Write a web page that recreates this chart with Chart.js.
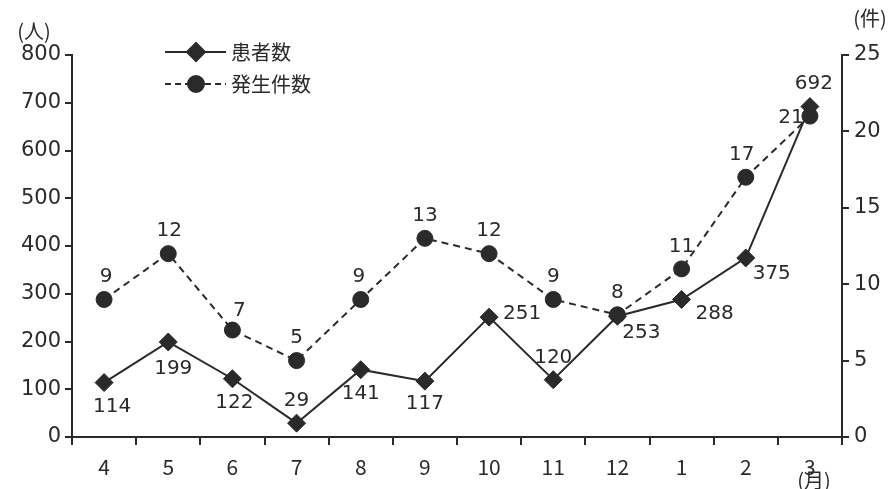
<!DOCTYPE html>
<html>
<head>
<meta charset="utf-8">
<script src="https://cdn.jsdelivr.net/npm/chart.js@4"></script>
<style>
  html, body { margin: 0; padding: 0; background: #fff; }
  #wrap { width: 889px; height: 489px; position: relative; }
</style>
</head>
<body>
<div id="wrap"><canvas id="chart" width="889" height="489"></canvas></div>
<script>
// Data
const months = ['4', '5', '6', '7', '8', '9', '10', '11', '12', '1', '2', '3'];
const patients = [114, 199, 122, 29, 141, 117, 251, 120, 253, 288, 375, 692];   // 患者数 (人)
const incidents = [9, 12, 7, 5, 9, 13, 12, 9, 8, 11, 17, 21];                   // 発生件数 (件)
const leftTicks = [0, 100, 200, 300, 400, 500, 600, 700, 800];
const rightTicks = [0, 5, 10, 15, 20, 25];

const FONT = '"Noto Sans CJK JP", "Noto Sans", sans-serif';
const NUMFONT = '"DejaVu Sans", "Noto Sans", sans-serif';
const INK = '#2a2a2a';

// label offsets (dx, dy) relative to each point
const patientLabelPos = [
  [8, 24], [5, 27], [2, 24], [0, -22], [0, 24], [0, 23],
  [33, -3], [0, -22], [24, 17], [33, 14], [26, 16], [4, -23]
];
const incidentLabelPos = [
  [2, -23], [1, -23], [7, -19], [0, -23], [-2, -23], [0, -23],
  [0, -23], [0, -23], [0, -22], [0, -22], [-4, -22], [-19, 2]
];

// draws value labels, legend and axis units
const annotate = {
  id: 'annotate',
  afterDatasetsDraw(chart) {
    const ctx = chart.ctx;
    ctx.save();
    ctx.fillStyle = INK;
    ctx.textAlign = 'center';
    ctx.textBaseline = 'middle';
    ctx.font = '20px ' + NUMFONT;
    const pos = [patientLabelPos, incidentLabelPos];
    chart.data.datasets.forEach((ds, di) => {
      chart.getDatasetMeta(di).data.forEach((pt, i) => {
        const o = pos[di][i];
        ctx.fillText(String(ds.data[i]), pt.x + o[0], pt.y + o[1]);
      });
    });

    // units
    const yb = chart.scales.y1;
    const xa = chart.scales.x;
    ctx.font = '20px ' + FONT;
    ctx.fillText('(人)', 34, 31);
    ctx.fillText('(件)', yb.left + 28, 18);
    ctx.fillText('(月)', xa.getPixelForValue(11) + 4, 480);

    // legend
    const items = [
      { label: '患者数', dash: [], style: 'rectRot', r: 9, y: 52 },
      { label: '発生件数', dash: [6, 4], style: 'circle', r: 8, y: 84 }
    ];
    items.forEach(it => {
      ctx.strokeStyle = INK;
      ctx.lineWidth = 2;
      ctx.setLineDash(it.dash);
      ctx.beginPath();
      ctx.moveTo(165, it.y);
      ctx.lineTo(226, it.y);
      ctx.stroke();
      ctx.setLineDash([]);
      Chart.helpers.drawPoint(ctx, { pointStyle: it.style, radius: it.r, borderWidth: 1 }, 196, it.y);
      ctx.fillStyle = INK;
      ctx.fill();
      ctx.textAlign = 'left';
      ctx.font = '20px ' + FONT;
      ctx.fillText(it.label, 231, it.y);
    });
    ctx.restore();
  }
};

const tickFont = { family: NUMFONT, size: 21 };

new Chart(document.getElementById('chart'), {
  type: 'line',
  data: {
    labels: months,
    datasets: [
      {
        label: '患者数',
        data: patients,
        yAxisID: 'y',
        borderColor: INK,
        backgroundColor: INK,
        borderWidth: 2,
        pointStyle: 'rectRot',
        pointRadius: 9,
        pointBorderWidth: 1,
        tension: 0
      },
      {
        label: '発生件数',
        data: incidents,
        yAxisID: 'y1',
        borderColor: INK,
        backgroundColor: INK,
        borderWidth: 2,
        borderDash: [7, 5],
        pointStyle: 'circle',
        pointRadius: 8,
        pointBorderWidth: 1,
        tension: 0
      }
    ]
  },
  options: {
    responsive: false,
    animation: false,
    layout: { padding: { top: 55, left: 0, right: 0, bottom: 0 } },
    plugins: {
      legend: { display: false },
      tooltip: { enabled: false }
    },
    scales: {
      x: {
        offset: true,
        grid: {
          offset: true,
          drawOnChartArea: false,
          drawTicks: true,
          tickLength: 8,
          color: INK,
          lineWidth: 2
        },
        border: { display: true, color: INK, width: 2 },
        ticks: { color: INK, font: { family: FONT, size: 21 }, padding: 9, maxRotation: 0 },
        afterFit(scale) { scale.height = 52; }
      },
      y: {
        position: 'left',
        min: 0,
        max: 800,
        afterBuildTicks(scale) { scale.ticks = leftTicks.map(v => ({ value: v })); },
        grid: { drawOnChartArea: false, tickLength: 7, color: INK, lineWidth: 2 },
        border: { display: true, color: INK, width: 2 },
        ticks: { color: INK, font: tickFont, padding: 4 },
        afterFit(scale) { scale.width = 72; }
      },
      y1: {
        position: 'right',
        min: 0,
        max: 25,
        afterBuildTicks(scale) { scale.ticks = rightTicks.map(v => ({ value: v })); },
        grid: { drawOnChartArea: false, tickLength: 7, color: INK, lineWidth: 2 },
        border: { display: true, color: INK, width: 2 },
        ticks: { color: INK, font: tickFont, padding: 5 },
        afterFit(scale) { scale.width = 47; }
      }
    }
  },
  plugins: [annotate]
});
</script>
</body>
</html>
